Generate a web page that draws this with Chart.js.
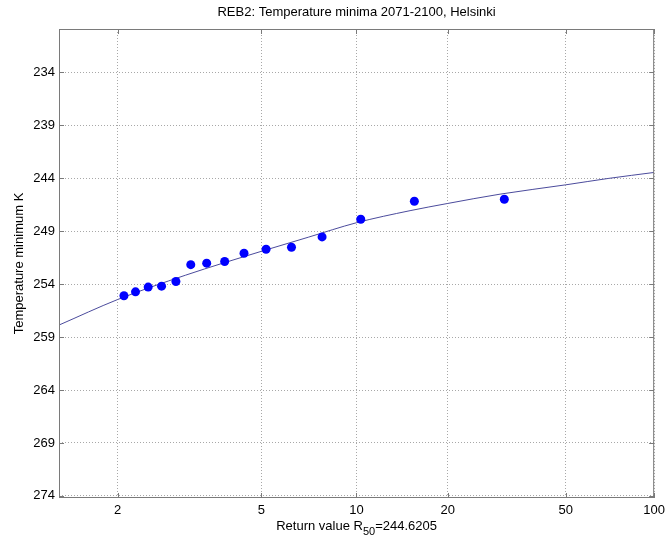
<!DOCTYPE html>
<html>
<head>
<meta charset="utf-8">
<script src="https://cdn.jsdelivr.net/npm/chart.js@4"></script>
<style>
  html, body { margin: 0; padding: 0; background: #fff; }
  #wrap { width: 670px; height: 546px; }
</style>
</head>
<body>
<div id="wrap"><canvas id="myChart" width="670" height="546"></canvas></div>
<script>
// Return periods (years) of the ranked minima, and the minima in K
const returnPeriods = [2.07, 2.21, 2.38, 2.58, 2.82, 3.10, 3.44, 3.88, 4.43, 5.17, 6.20, 7.75, 10.33, 15.5, 31.0];
const minima = [255.10, 254.73, 254.28, 254.19, 253.75, 252.16, 252.02, 251.86, 251.08, 250.70, 250.51, 249.54, 247.87, 246.17, 245.98];

// Fitted return level curve
const fitPeriods = [1.5, 2, 3, 5, 7, 10, 15, 20, 30, 50, 70, 100];
const fitLevels = [257.85, 255.45, 253.15, 250.90, 249.57, 248.20, 247.06, 246.38, 245.50, 244.62, 244.01, 243.45];

// Tick labels
const xTickLabels = [2, 5, 10, 20, 50, 100];
const yTickLabels = [234, 239, 244, 249, 254, 259, 264, 269, 274];

const FONT = '"Liberation Sans", Arial, Helvetica, sans-serif';

// Gumbel reduced variate for a return period (paper axis)
function gumbel(T) {
  return -Math.log(-Math.log(1 - 1 / T));
}

const pointsData = returnPeriods.map((T, i) => ({ x: gumbel(T), y: minima[i] }));
const fitData = fitPeriods.map((T, i) => ({ x: gumbel(T), y: fitLevels[i] }));

// Titles, frame and inward ticks, MATLAB style
const decorations = {
  id: 'decorations',
  afterDraw(chart) {
    const { ctx, chartArea: a, scales } = chart;
    ctx.save();
    ctx.strokeStyle = '#7a7a7a';
    ctx.lineWidth = 1;
    ctx.strokeRect(a.left + 0.5, a.top + 0.5, a.right - a.left - 1, a.bottom - a.top - 1);

    ctx.beginPath();
    scales.x.ticks.forEach(t => {
      const px = Math.round(scales.x.getPixelForValue(t.value)) + 0.5;
      ctx.moveTo(px, a.bottom); ctx.lineTo(px, a.bottom - 5);
      ctx.moveTo(px, a.top); ctx.lineTo(px, a.top + 5);
    });
    scales.y.ticks.forEach(t => {
      const py = Math.round(scales.y.getPixelForValue(t.value)) + 0.5;
      ctx.moveTo(a.left, py); ctx.lineTo(a.left + 5, py);
      ctx.moveTo(a.right, py); ctx.lineTo(a.right - 5, py);
    });
    ctx.stroke();

    const cx = (a.left + a.right) / 2;
    ctx.fillStyle = '#000';
    ctx.font = '13px ' + FONT;
    ctx.textAlign = 'center';
    ctx.textBaseline = 'middle';
    ctx.fillText('REB2: Temperature minima 2071-2100, Helsinki', cx, 12);

    // x title with subscript
    const p1 = 'Return value R', sub = '50', p2 = '=244.6205';
    ctx.font = '13px ' + FONT;
    const w1 = ctx.measureText(p1).width, w2 = ctx.measureText(p2).width;
    ctx.font = '11px ' + FONT;
    const ws = ctx.measureText(sub).width;
    let x0 = cx - (w1 + ws + w2) / 2;
    ctx.textAlign = 'left';
    ctx.font = '13px ' + FONT;
    ctx.fillText(p1, x0, 526);
    ctx.font = '11px ' + FONT;
    ctx.fillText(sub, x0 + w1, 532);
    ctx.font = '13px ' + FONT;
    ctx.fillText(p2, x0 + w1 + ws, 526);

    // y title
    ctx.translate(19, (a.top + a.bottom) / 2);
    ctx.rotate(-Math.PI / 2);
    ctx.textAlign = 'center';
    ctx.fillText('Temperature minimum K', 0, 0);
    ctx.restore();
  }
};

const ctx = document.getElementById('myChart').getContext('2d');

const myChart = new Chart(ctx, {
  type: 'scatter',
  data: {
    datasets: [
      {
        label: 'minima',
        data: pointsData,
        backgroundColor: '#0000ff',
        borderColor: '#0000ff',
        pointRadius: 4.5,
        pointHoverRadius: 4.5,
        borderWidth: 0
      },
      {
        label: 'fit',
        data: fitData,
        showLine: true,
        borderColor: '#4b4b9c',
        borderWidth: 1,
        pointRadius: 0,
        cubicInterpolationMode: 'monotone'
      }
    ]
  },
  options: {
    responsive: false,
    animation: false,
    layout: { padding: { top: 29, right: 14, left: 0, bottom: 0 } },
    plugins: {
      legend: { display: false },
      tooltip: { enabled: false }
    },
    scales: {
      x: {
        type: 'linear',
        min: -0.097,
        max: gumbel(100),
        afterBuildTicks: scale => {
          scale.ticks = xTickLabels.map(T => ({ value: gumbel(T) }));
        },
        afterFit: scale => { scale.height = 48; },
        ticks: {
          callback: (value, index) => xTickLabels[index],
          color: '#000',
          font: { family: FONT, size: 13 },
          padding: 5,
          maxRotation: 0
        },
        grid: { color: '#a8a8a8', lineWidth: 1, drawTicks: false },
        border: { display: false, dash: [1, 2] }
      },
      y: {
        type: 'linear',
        reverse: true,
        min: 229.9,
        max: 274.2,
        afterBuildTicks: scale => {
          scale.ticks = yTickLabels.map(v => ({ value: v }));
        },
        afterFit: scale => { scale.width = 59; },
        ticks: {
          callback: value => value,
          color: '#000',
          font: { family: FONT, size: 13 },
          padding: 4
        },
        grid: { color: '#a8a8a8', lineWidth: 1, drawTicks: false },
        border: { display: false, dash: [1, 2] }
      }
    }
  },
  plugins: [decorations]
});
</script>
</body>
</html>
